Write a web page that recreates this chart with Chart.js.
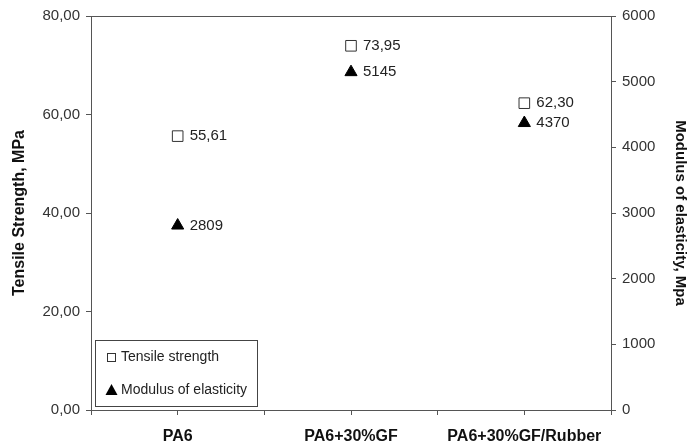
<!DOCTYPE html>
<html>
<head>
<meta charset="utf-8">
<script src="https://cdn.jsdelivr.net/npm/chart.js@4"></script>
<style>
  body { margin: 0; background: #fff; }
  #wrap { width: 689px; height: 446px; }
</style>
</head>
<body>
<div id="wrap"><canvas id="myChart" width="689" height="446"></canvas></div>
<script>
const categories = ['PA6', 'PA6+30%GF', 'PA6+30%GF/Rubber']
const tensile = [55.61, 73.95, 62.30]
const modulus = [2809, 5145, 4370]
const leftTicks = [0, 20, 40, 60, 80]
const rightTicks = [0, 1000, 2000, 3000, 4000, 5000, 6000]

const FONT = '"Liberation Sans", Arial, sans-serif'
const fmtComma = (v) => v.toFixed(2).replace('.', ',')

// value labels to the right of each marker
const pointLabels = {
  id: 'pointLabels',
  afterDatasetsDraw(chart) {
    const ctx = chart.ctx
    ctx.save()
    ctx.font = '15px ' + FONT
    ctx.fillStyle = '#222'
    ctx.textBaseline = 'middle'
    chart.data.datasets.forEach((ds, i) => {
      chart.getDatasetMeta(i).data.forEach((pt, j) => {
        const txt = i === 0 ? fmtComma(ds.data[j].y) : String(ds.data[j].y)
        ctx.fillText(txt, pt.x + 12, pt.y)
      })
    })
    ctx.restore()
  }
}

// boxed legend inside the plot, bottom-left
const boxLegend = {
  id: 'boxLegend',
  afterDraw(chart) {
    const ctx = chart.ctx
    const a = chart.chartArea
    const x = a.left + 4, y = a.bottom - 70, w = 162, h = 66
    ctx.save()
    ctx.fillStyle = '#fff'
    ctx.fillRect(x, y, w, h)
    ctx.strokeStyle = '#444'
    ctx.lineWidth = 1
    ctx.strokeRect(x + 0.5, y + 0.5, w, h)
    ctx.font = '14px ' + FONT
    ctx.fillStyle = '#222'
    ctx.textBaseline = 'middle'
    // square
    ctx.strokeStyle = '#333'
    ctx.strokeRect(x + 12.5, y + 13.5, 8, 8)
    ctx.fillText(chart.data.datasets[0].label, x + 26, y + 17)
    // triangle
    ctx.fillStyle = '#000'
    ctx.beginPath()
    ctx.moveTo(x + 16.5, y + 44)
    ctx.lineTo(x + 22.5, y + 55)
    ctx.lineTo(x + 10.5, y + 55)
    ctx.closePath()
    ctx.fill()
    ctx.fillStyle = '#222'
    ctx.fillText(chart.data.datasets[1].label, x + 26, y + 50)
    ctx.restore()
  }
}

// frame around the plot area
const frame = {
  id: 'frame',
  beforeDatasetsDraw(chart) {
    const ctx = chart.ctx
    const a = chart.chartArea
    ctx.save()
    ctx.strokeStyle = '#555'
    ctx.lineWidth = 1
    ctx.strokeRect(Math.round(a.left) + 0.5, Math.round(a.top) + 0.5, Math.round(a.right - a.left), Math.round(a.bottom - a.top))
    ctx.restore()
  }
}

new Chart('myChart', {
  type: 'scatter',
  data: {
    datasets: [{
      label: 'Tensile strength',
      data: tensile.map((v, i) => ({ x: i, y: v })),
      yAxisID: 'y',
      pointStyle: 'rect',
      pointRadius: 7.5,
      pointHoverRadius: 7.5,
      backgroundColor: '#fff',
      borderColor: '#333',
      borderWidth: 1
    }, {
      label: 'Modulus of elasticity',
      data: modulus.map((v, i) => ({ x: i, y: v })),
      yAxisID: 'y2',
      pointStyle: 'triangle',
      pointRadius: 7,
      pointHoverRadius: 7,
      backgroundColor: '#000',
      borderColor: '#000',
      borderWidth: 1
    }]
  },
  options: {
    responsive: false,
    animation: false,
    layout: { padding: { top: 16, left: 0, right: 0, bottom: 0 } },
    plugins: {
      legend: { display: false },
      tooltip: { enabled: false },
      title: { display: false }
    },
    scales: {
      x: {
        type: 'linear',
        min: -0.5,
        max: 2.5,
        afterFit: (s) => { s.height = 36 },
        afterBuildTicks: (s) => {
          s.ticks = [-0.5, 0, 0.5, 1, 1.5, 2, 2.5].map(v => ({ value: v }))
        },
        ticks: {
          autoSkip: false,
          maxRotation: 0,
          padding: 12,
          color: '#111',
          font: { family: FONT, size: 16, weight: 'bold' },
          callback: (v) => Number.isInteger(v) ? categories[v] : ''
        },
        grid: { drawOnChartArea: false, tickLength: 5, color: '#555' },
        border: { color: '#555' }
      },
      y: {
        position: 'left',
        min: 0,
        max: 80,
        afterFit: (s) => { s.width = 91 },
        afterBuildTicks: (s) => { s.ticks = leftTicks.map(v => ({ value: v })) },
        ticks: {
          padding: 6,
          color: '#333',
          font: { family: FONT, size: 15 },
          callback: (v) => fmtComma(v)
        },
        grid: { drawOnChartArea: false, tickLength: 5, color: '#555' },
        border: { color: '#555' },
        title: {
          display: true,
          text: 'Tensile Strength, MPa',
          color: '#111',
          padding: { top: 10, bottom: 0 },
          font: { family: FONT, size: 16, weight: 'bold' }
        }
      },
      y2: {
        position: 'right',
        min: 0,
        max: 6000,
        afterFit: (s) => { s.width = 78 },
        afterBuildTicks: (s) => { s.ticks = rightTicks.map(v => ({ value: v })) },
        ticks: {
          padding: 6,
          color: '#333',
          font: { family: FONT, size: 15 },
          callback: (v) => String(v)
        },
        grid: { drawOnChartArea: false, tickLength: 5, color: '#555' },
        border: { color: '#555' },
        title: {
          display: true,
          text: 'Modulus of elasticity, Mpa',
          color: '#111',
          padding: { top: 0, bottom: 0 },
          font: { family: FONT, size: 15, weight: 'bold' }
        }
      }
    }
  },
  plugins: [frame, pointLabels, boxLegend]
})
</script>
</body>
</html>
